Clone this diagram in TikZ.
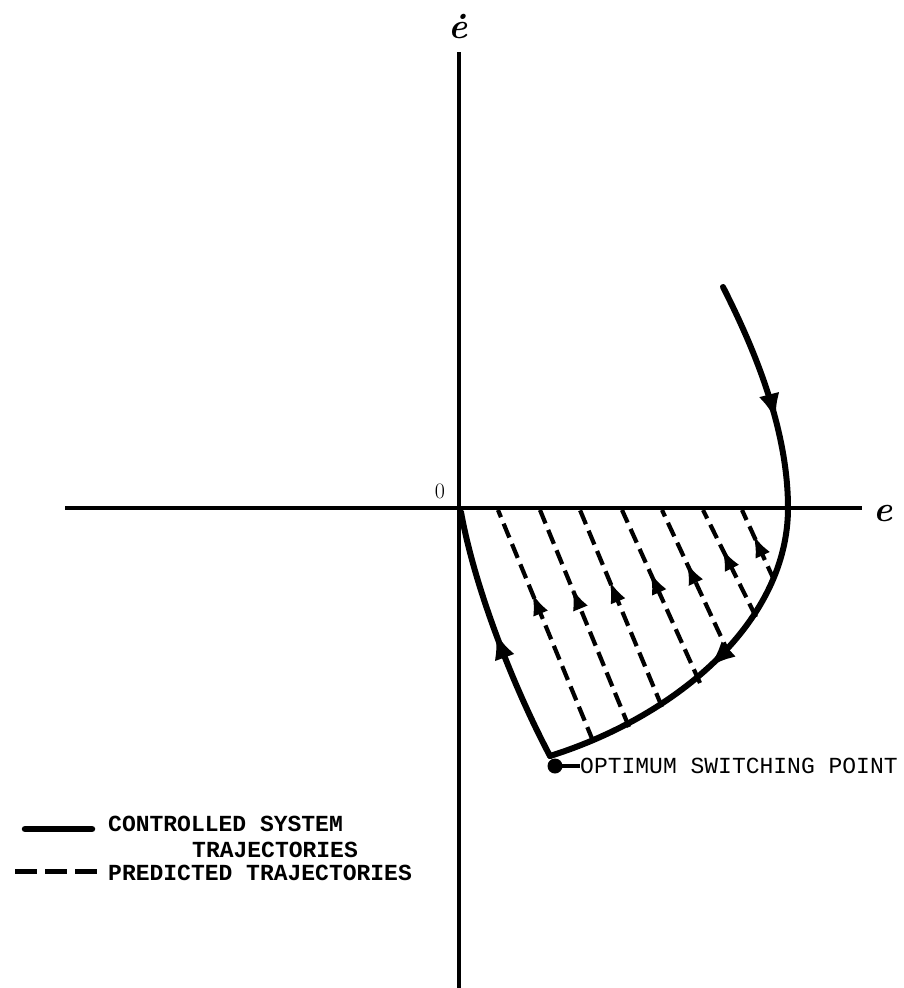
\documentclass[tikz,border=0pt]{standalone}
\usepackage{fontspec}
\setmonofont{Liberation Mono}
\usetikzlibrary{arrows.meta,decorations.markings}
\begin{document}
\begin{tikzpicture}[x=1pt,y=-1pt,
  axis/.style={line width=3.4pt},
  traj/.style={line width=6pt,line cap=round,line join=round},
  pred/.style={line width=4.2pt,dash pattern=on 15pt off 7pt},
  lbl/.style={font=\fontsize{23}{26}\selectfont\ttfamily,inner sep=0pt,anchor=west},
  leg/.style={lbl,font=\fontsize{23}{26}\selectfont\ttfamily\bfseries},
  axlbl/.style={font=\fontsize{36}{38}\selectfont\bfseries\itshape,inner sep=0pt},
  midarrow/.style={postaction={decorate},decoration={markings,
     mark=at position #1 with {\arrow{Latex[length=27pt,width=21pt]}}}},
  predarrow/.style={postaction={decorate},decoration={markings,
     mark=at position #1 with {\arrow{Latex[length=22pt,width=16pt]}}}},
]
\useasboundingbox (0,0) rectangle (903,988);

% axes
\coordinate (xl) at (65,508);
\coordinate (xr) at (862,508);
\coordinate (yt) at (459,52);
\coordinate (yb) at (459,988);
\coordinate (O) at (459,508);
\draw[axis] (xl) -- (xr);
\draw[axis] (yt) -- (yb);
\node[axlbl] (ed) at (458,27) {\.e};
\node[axlbl] (e) at (883,514) {e};
\node[font=\fontsize{22}{24}\selectfont,inner sep=0pt] (zero) at (440,491) {0};

% controlled trajectory
\coordinate (T0) at (723,287);
\coordinate (C) at (788,508);
\coordinate (S) at (550,756);
\coordinate (E) at (461,512);
\draw[traj, midarrow=0.62] (T0) .. controls (755,350) and (788,430) .. (C);
\draw[traj, midarrow=0.5] (C) .. controls (788,620) and (680,715) .. (S);
\draw[traj, midarrow=0.52] (S) .. controls (515,690) and (475,590) .. (E);

% predicted trajectories
\foreach \bx/\by/\tx in {593/741/498, 629/727/540, 662/707/580, 700/683/622, 730/656/662, 756/617/703, 774/580/742}{
  \draw[pred, predarrow=0.64] (\bx,\by) -- (\tx,510);
}

% switching point marker
\fill (555,766) circle (7.5pt);
\node[lbl] (sw) at (580,766) {OPTIMUM SWITCHING POINT};
\draw[line width=4.5pt] (555,766) -- (sw.west);

% legend
\coordinate (l1a) at (25,829);
\coordinate (l1b) at (92,829);
\draw[line width=6.5pt,line cap=round] (l1a) -- (l1b);
\coordinate (l2a) at (15,871);
\coordinate (l2b) at (97,871);
\draw[line width=5pt,dash pattern=on 22pt off 8pt] (l2a) -- (l2b);
\node[leg] (c1) at (108,824) {CONTROLLED SYSTEM};
\node[leg] (c2) at (192,850) {TRAJECTORIES};
\node[leg] (c3) at (108,873) {PREDICTED TRAJECTORIES};
\end{tikzpicture}
\end{document}
